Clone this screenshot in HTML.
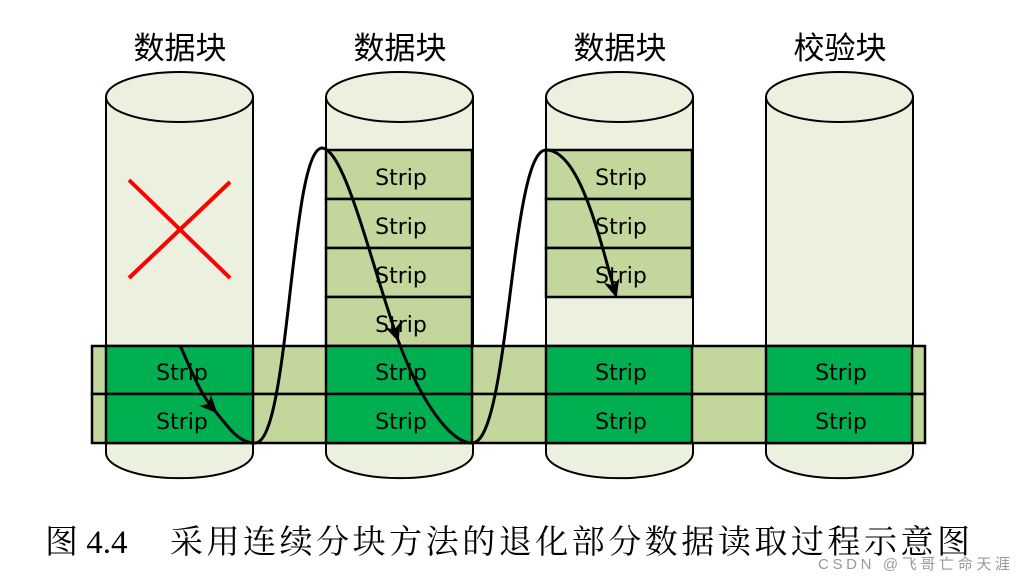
<!DOCTYPE html>
<html><head><meta charset="utf-8"><style>
body{margin:0;width:1024px;height:580px;background:#fff;overflow:hidden}
</style></head><body>
<svg width="1024" height="580" xmlns="http://www.w3.org/2000/svg" font-family="'Liberation Sans','Noto Sans CJK SC',sans-serif">
<defs><marker id="a" markerWidth="20" markerHeight="20" refX="16" refY="8" orient="auto" markerUnits="userSpaceOnUse"><path d="M0,0 L18,8 L0,16 L5,8 z" fill="#000"/></marker></defs>
<g stroke="#000" stroke-width="2" fill="#ebf1de">
<g id="c"><path d="M106,97 L106,453 A73,25 0 0 0 253,453 L253,97 Z"/><ellipse cx="179.5" cy="97" rx="73.5" ry="25"/></g>
<use href="#c" x="220"/><use href="#c" x="440"/><use href="#c" x="660"/>
</g>
<g stroke="#000" stroke-width="2.5" fill="#c3d69b">
<rect x="326" y="150" width="146" height="49"/><rect x="326" y="199" width="146" height="49"/><rect x="326" y="248" width="146" height="49"/><rect x="326" y="297" width="146" height="49"/>
<rect x="546" y="150" width="146" height="49"/><rect x="546" y="199" width="146" height="49"/><rect x="546" y="248" width="146" height="49"/>
<rect x="92" y="346" width="833" height="48"/><rect x="92" y="394" width="833" height="49"/>
</g>
<g stroke="#000" stroke-width="2.5" fill="#00b050">
<rect x="106" y="346" width="147" height="48"/><rect x="106" y="394" width="147" height="49"/>
<rect x="326" y="346" width="146" height="48"/><rect x="326" y="394" width="146" height="49"/>
<rect x="546" y="346" width="146" height="48"/><rect x="546" y="394" width="146" height="49"/>
<rect x="766" y="346" width="146" height="48"/><rect x="766" y="394" width="146" height="49"/>
</g>
<g stroke="#f00" stroke-width="4"><line x1="129" y1="180" x2="230" y2="278"/><line x1="230" y1="182" x2="129" y2="278"/></g>
<g font-size="22" text-anchor="middle" fill="#000" font-family="'DejaVu Sans',sans-serif">
<text x="401" y="185">Strip</text><text x="401" y="234">Strip</text><text x="401" y="283">Strip</text><text x="401" y="332">Strip</text>
<text x="621" y="185">Strip</text><text x="621" y="234">Strip</text><text x="621" y="283">Strip</text>
<text x="182" y="380">Strip</text><text x="182" y="429">Strip</text>
<text x="401" y="380">Strip</text><text x="401" y="429">Strip</text>
<text x="621" y="380">Strip</text><text x="621" y="429">Strip</text>
<text x="841" y="380">Strip</text><text x="841" y="429">Strip</text>
</g>
<g fill="none" stroke="#000" stroke-width="3">
<path d="M180,345 C195,380 203,398 216,412" marker-end="url(#a)"/>
<path d="M216,412 C230,430 240,443 255,443 C290,443 290,150 322,148 C345,150 370,260 398,340" marker-end="url(#a)"/>
<path d="M398,340 C420,400 450,443 472,443 C510,443 510,150 546,150 C580,150 600,240 616,296" marker-end="url(#a)"/>
</g>
<g font-size="31" text-anchor="middle" fill="#000">
<text x="180" y="59">数据块</text><text x="400" y="59">数据块</text><text x="620" y="59">数据块</text><text x="840" y="59">校验块</text>
</g>
<text x="45" y="553" font-size="33" fill="#000" font-family="'Liberation Serif','Noto Serif CJK SC',serif">图 4.4</text>
<text x="170" y="553" font-size="33" fill="#000" font-family="'Liberation Serif','Noto Serif CJK SC',serif" textLength="800">采用连续分块方法的退化部分数据读取过程示意图</text>
<text x="1010" y="569" font-size="15" fill="#999" text-anchor="end" textLength="192">CSDN @飞哥亡命天涯</text>
</svg>
</body></html>
